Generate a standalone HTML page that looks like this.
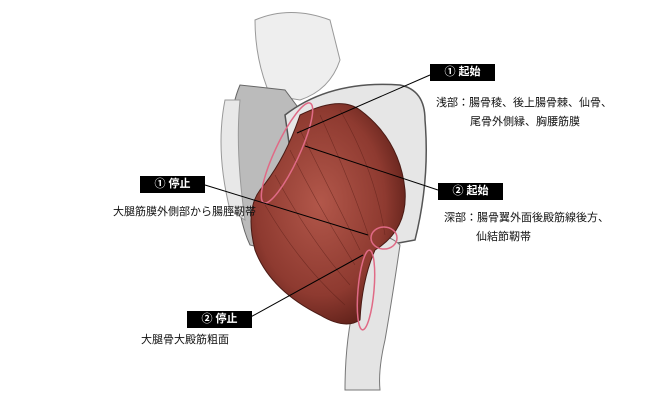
<!DOCTYPE html>
<html><head><meta charset="utf-8"><style>
html,body{margin:0;padding:0;background:#fff;}
body{width:650px;height:400px;position:relative;overflow:hidden;font-family:"Liberation Sans","Noto Sans CJK JP",sans-serif;}
.b{position:absolute;background:#000;color:#fff;font-size:11px;font-weight:bold;line-height:17px;height:17px;text-align:center;width:65px;}
.t{position:absolute;font-size:11px;color:#111;white-space:nowrap;line-height:14px;}
svg{position:absolute;left:0;top:0;}
</style></head><body>
<svg width="650" height="400" viewBox="0 0 650 400">
<defs>
<radialGradient id="m" cx="0.45" cy="0.45" r="0.6">
<stop offset="0" stop-color="#b2574a"/><stop offset="0.7" stop-color="#8e3a30"/><stop offset="1" stop-color="#5e2019"/>
</radialGradient>
</defs>
<!-- vertebrae -->
<path d="M255 20 Q290 5 330 20 L340 60 Q330 90 300 100 L270 95 Q255 60 255 20Z" fill="#eee" stroke="#999" stroke-width="1"/>
<!-- sacrum / pelvis left -->
<path d="M240 85 Q225 120 235 170 Q238 220 250 245 L270 250 Q300 170 300 110 L285 90Z" fill="#bbb" stroke="#666"/>
<path d="M225 100 Q215 150 230 210 L245 220 Q235 150 240 100Z" fill="#e8e8e8" stroke="#999"/>
<!-- ilium -->
<path d="M285 115 Q330 80 400 85 Q425 90 425 120 Q430 180 415 240 L360 250 Q330 200 290 150Z" fill="#e6e6e6" stroke="#555" stroke-width="1.5"/>
<!-- femur -->
<path d="M360 240 Q385 230 400 245 Q392 300 385 340 Q378 370 380 390 L345 390 Q345 340 355 300Z" fill="#e4e4e4" stroke="#777"/>
<!-- muscle -->
<path d="M300 115 Q340 95 360 110 Q400 140 405 190 Q408 230 375 250 Q362 280 360 320 Q345 330 320 315 Q270 290 255 250 Q245 210 260 190 Q285 160 300 115Z" fill="url(#m)" stroke="#4a1a14"/>
<g stroke="#5a1e17" stroke-width="0.6" opacity="0.6" fill="none">
<path d="M300 130 Q330 190 360 250"/><path d="M290 150 Q320 210 355 265"/><path d="M275 175 Q310 240 350 285"/><path d="M320 115 Q350 180 370 240"/><path d="M340 110 Q375 170 385 235"/><path d="M265 205 Q300 265 345 305"/>
</g>
<!-- pink outlines -->
<g fill="none" stroke="#e06a86" stroke-width="1.5">
<ellipse cx="287" cy="153" rx="12" ry="55" transform="rotate(25 287 153)"/>
<ellipse cx="384" cy="238" rx="13" ry="11"/>
<ellipse cx="366" cy="290" rx="8" ry="40" transform="rotate(5 366 290)"/>
</g>
<!-- leader lines -->
<g stroke="#000" stroke-width="1">
<line x1="430" y1="75" x2="297" y2="133"/>
<line x1="438" y1="190" x2="305" y2="146"/>
<line x1="205" y1="185" x2="368" y2="235"/>
<line x1="247" y1="319" x2="363" y2="255"/>
</g>
</svg>
<div class="b" style="left:430px;top:64px;">① 起始</div>
<div class="t" style="left:436px;top:96px;">浅部：腸骨稜、後上腸骨棘、仙骨、</div>
<div class="t" style="left:470px;top:115px;">尾骨外側縁、胸腰筋膜</div>
<div class="b" style="left:438px;top:183px;">② 起始</div>
<div class="t" style="left:444px;top:211px;">深部：腸骨翼外面後殿筋線後方、</div>
<div class="t" style="left:476px;top:230px;">仙結節靭帯</div>
<div class="b" style="left:140px;top:176px;">① 停止</div>
<div class="t" style="left:113px;top:205px;">大腿筋膜外側部から腸脛靭帯</div>
<div class="b" style="left:187px;top:311px;">② 停止</div>
<div class="t" style="left:141px;top:333px;">大腿骨大殿筋粗面</div>
</body></html>
